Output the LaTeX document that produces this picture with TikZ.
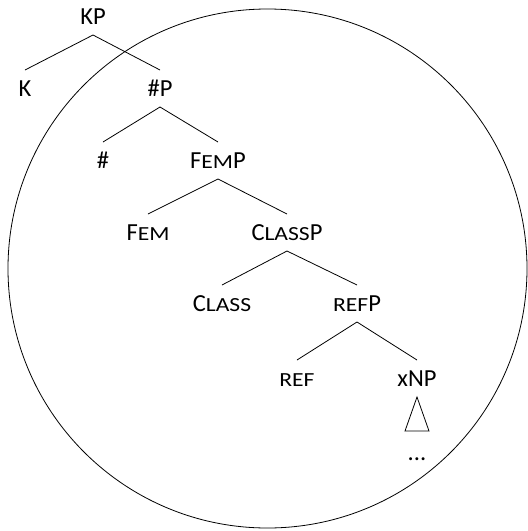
\documentclass[tikz,border=0pt]{standalone}
\usepackage{fontspec}
\setmainfont{Carlito}
\newfontfamily\scfont[FakeStretch=1.18]{Carlito}
\newcommand{\fsc}[1]{{\scfont\fontsize{20}{22}\selectfont #1}}
\begin{document}
\begin{tikzpicture}[x=1pt,y=-1pt,
  lbl/.style={inner sep=0pt, text height=16pt, text depth=0pt, font=\fontsize{24.5}{28}\selectfont},
  edge/.style={line width=0.8pt, black}]
\useasboundingbox (0,0) rectangle (528,531);
\draw[line width=0.8pt] (267.5,268.5) circle (259.5);
\node[lbl] (KP) at (93,16) {KP};
\node[lbl] (K) at (25,88) {K};
\node[lbl] (NumP) at (160,88) {\#P};
\node[lbl] (Num) at (103,160) {\#};
\node[lbl] (FemP) at (218,160) {F\fsc{EM}P};
\node[lbl] (Fem) at (148,232) {F\fsc{EM}};
\node[lbl] (ClassP) at (287,232) {C\fsc{LASS}P};
\node[lbl] (Class) at (222,303) {C\fsc{LASS}};
\node[lbl] (RefP) at (357,303) {\fsc{REF}P};
\node[lbl] (Ref) at (297,378) {\fsc{REF}};
\node[lbl] (xNP) at (417,378) {xNP};
\node[inner sep=0pt, anchor=base, font=\fontsize{24.5}{28}\selectfont] (dots) at (417,460) {...};
\foreach \p/\c in {KP/K, KP/NumP, NumP/Num, NumP/FemP, FemP/Fem, FemP/ClassP, ClassP/Class, ClassP/RefP, RefP/Ref, RefP/xNP}
  \draw[edge] ([yshift=-19pt]\p.center) -- ([yshift=18pt]\c.center);
\draw[edge] ([yshift=-19pt]xNP.center) -- ([shift={(-12pt,-53pt)}]xNP.center) -- ([shift={(12pt,-53pt)}]xNP.center) -- cycle;
\end{tikzpicture}
\end{document}
